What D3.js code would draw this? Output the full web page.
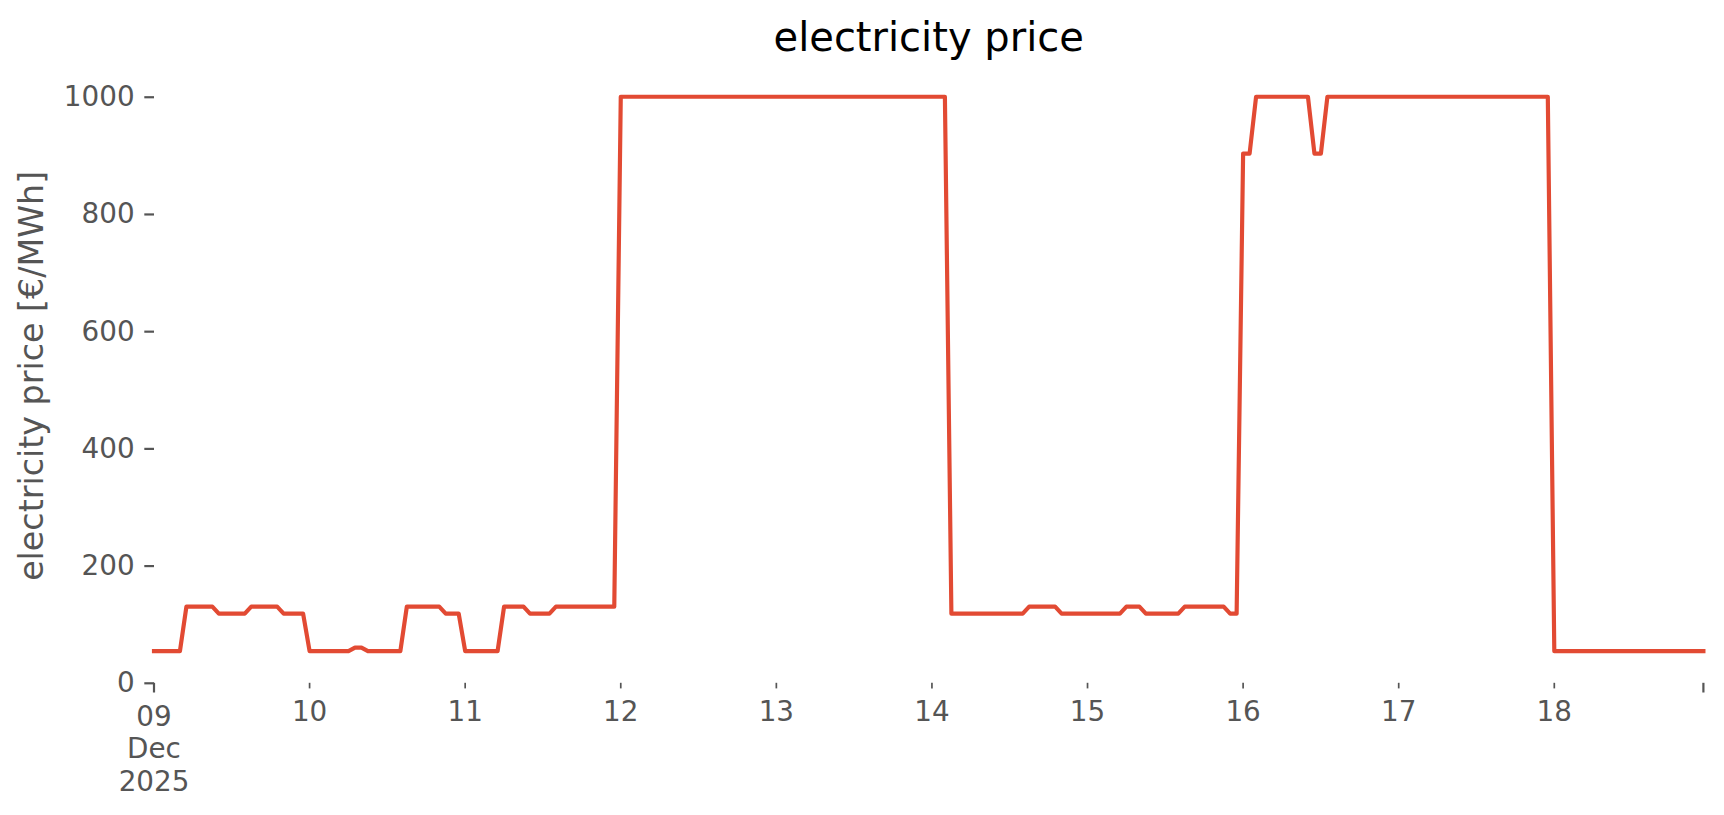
<!DOCTYPE html>
<html>
<head>
<meta charset="utf-8">
<script src="https://cdn.jsdelivr.net/npm/d3@7"></script>
<style>
body { margin: 0; background: #fff; }
text { font-family: "DejaVu Sans", sans-serif; }
</style>
</head>
<body>
<svg width="1724" height="815"></svg>
<script>
// hourly electricity price [€/MWh], one array per day (00:00 .. 23:00)
var dec09 = [54, 54, 54, 54, 54, 130, 130, 130, 130, 130, 118, 118, 118, 118, 118, 130, 130, 130, 130, 130, 118, 118, 118, 118];
var dec10 = [54, 54, 54, 54, 54, 54, 54, 60, 60, 54, 54, 54, 54, 54, 54, 130, 130, 130, 130, 130, 130, 118, 118, 118];
var dec11 = [54, 54, 54, 54, 54, 54, 130, 130, 130, 130, 118, 118, 118, 118, 130, 130, 130, 130, 130, 130, 130, 130, 130, 130];
var dec12 = [1000, 1000, 1000, 1000, 1000, 1000, 1000, 1000, 1000, 1000, 1000, 1000, 1000, 1000, 1000, 1000, 1000, 1000, 1000, 1000, 1000, 1000, 1000, 1000];
var dec13 = [1000, 1000, 1000, 1000, 1000, 1000, 1000, 1000, 1000, 1000, 1000, 1000, 1000, 1000, 1000, 1000, 1000, 1000, 1000, 1000, 1000, 1000, 1000, 1000];
var dec14 = [1000, 1000, 1000, 118, 118, 118, 118, 118, 118, 118, 118, 118, 118, 118, 118, 130, 130, 130, 130, 130, 118, 118, 118, 118];
var dec15 = [118, 118, 118, 118, 118, 118, 130, 130, 130, 118, 118, 118, 118, 118, 118, 130, 130, 130, 130, 130, 130, 130, 118, 118];
var dec16 = [903, 903, 1000, 1000, 1000, 1000, 1000, 1000, 1000, 1000, 1000, 903, 903, 1000, 1000, 1000, 1000, 1000, 1000, 1000, 1000, 1000, 1000, 1000];
var dec17 = [1000, 1000, 1000, 1000, 1000, 1000, 1000, 1000, 1000, 1000, 1000, 1000, 1000, 1000, 1000, 1000, 1000, 1000, 1000, 1000, 1000, 1000, 1000, 1000];
var dec18 = [54, 54, 54, 54, 54, 54, 54, 54, 54, 54, 54, 54, 54, 54, 54, 54, 54, 54, 54, 54, 54, 54, 54, 54];

var dayTicks = ["2025-12-09", "2025-12-10", "2025-12-11", "2025-12-12", "2025-12-13",
                "2025-12-14", "2025-12-15", "2025-12-16", "2025-12-17", "2025-12-18"];
var dayLabels = [["09", "Dec", "2025"], ["10"], ["11"], ["12"], ["13"], ["14"], ["15"], ["16"], ["17"], ["18"]];
var yTicks = [0, 200, 400, 600, 800, 1000];

var svg = d3.select("svg"),
    width = +svg.attr("width"),
    height = +svg.attr("height");

var prices = [].concat(dec09, dec10, dec11, dec12, dec13, dec14, dec15, dec16, dec17, dec18);
var start = new Date(Date.UTC(2025, 11, 9));
var times = d3.utcHour.range(start, d3.utcHour.offset(start, prices.length));
var data = prices.map(function(p, i) { return {t: times[i], v: p}; });

// plot area in pixels (no frame drawn)
var plotLeft = 154, plotRight = 1703.4, plotBottom = 682.8, plotTop = 68.9;

var x = d3.scaleUtc().domain([times[0], times[times.length - 1]]).range([plotLeft, plotRight]);
var y = d3.scaleLinear().domain([0, 1047.5]).range([plotBottom, plotTop]);

var tickColor = "#555555";

// y axis: ticks + labels, no spine
var yAxis = svg.append("g")
    .attr("transform", "translate(" + plotLeft + ",0)")
    .call(d3.axisLeft(y).tickValues(yTicks).tickFormat(d3.format("d")).tickSize(9.7).tickPadding(9.7));
yAxis.select(".domain").remove();
yAxis.selectAll(".tick line").attr("stroke", tickColor).attr("stroke-width", 2.2);
yAxis.selectAll(".tick text")
    .attr("fill", tickColor)
    .attr("font-size", 27.8)
    .attr("font-family", "DejaVu Sans");

// x axis: day ticks (short) with labels, plus long ticks at both ends
var dayDates = dayTicks.map(function(d) { return new Date(d + "T00:00:00Z"); });
var xAxis = svg.append("g").attr("class", "xaxis");

xAxis.selectAll("line.minor")
    .data(dayDates.slice(1))
    .enter().append("line")
    .attr("class", "minor")
    .attr("x1", function(d) { return x(d); })
    .attr("x2", function(d) { return x(d); })
    .attr("y1", plotBottom)
    .attr("y2", plotBottom + 5.6)
    .attr("stroke", tickColor)
    .attr("stroke-width", 1.7);

xAxis.selectAll("line.major")
    .data([times[0], times[times.length - 1]])
    .enter().append("line")
    .attr("class", "major")
    .attr("x1", function(d) { return x(d); })
    .attr("x2", function(d) { return x(d); })
    .attr("y1", plotBottom)
    .attr("y2", plotBottom + 9.7)
    .attr("stroke", tickColor)
    .attr("stroke-width", 2.2);

// first label sits under the long tick, so a little lower
var labels = xAxis.selectAll("text")
    .data(dayDates)
    .enter().append("text")
    .attr("x", function(d) { return x(d); })
    .attr("y", function(d, i) { return i === 0 ? 725.5 : 721; })
    .attr("text-anchor", "middle")
    .attr("fill", tickColor)
    .attr("font-size", 27.8);
labels.selectAll("tspan")
    .data(function(d, i) { return dayLabels[i]; })
    .enter().append("tspan")
    .attr("x", function() { return d3.select(this.parentNode).attr("x"); })
    .attr("dy", function(d, i) { return i === 0 ? 0 : 32.8; })
    .text(function(d) { return d; });

// price line
var line = d3.line()
    .x(function(d) { return x(d.t); })
    .y(function(d) { return y(d.v); });

svg.append("path")
    .datum(data)
    .attr("d", line)
    .attr("fill", "none")
    .attr("stroke", "#E24A33")
    .attr("stroke-width", 4.17)
    .attr("stroke-linejoin", "round")
    .attr("stroke-linecap", "square");

// y label
svg.append("text")
    .attr("transform", "translate(" + 43 + "," + ((plotTop + plotBottom) / 2) + ") rotate(-90)")
    .attr("text-anchor", "middle")
    .attr("fill", tickColor)
    .attr("font-size", 33.3)
    .text("electricity price [€/MWh]");

// title
svg.append("text")
    .attr("x", (plotLeft + plotRight) / 2)
    .attr("y", 50.5)
    .attr("text-anchor", "middle")
    .attr("fill", "#000")
    .attr("font-size", 40)
    .text("electricity price");
</script>
</body>
</html>
